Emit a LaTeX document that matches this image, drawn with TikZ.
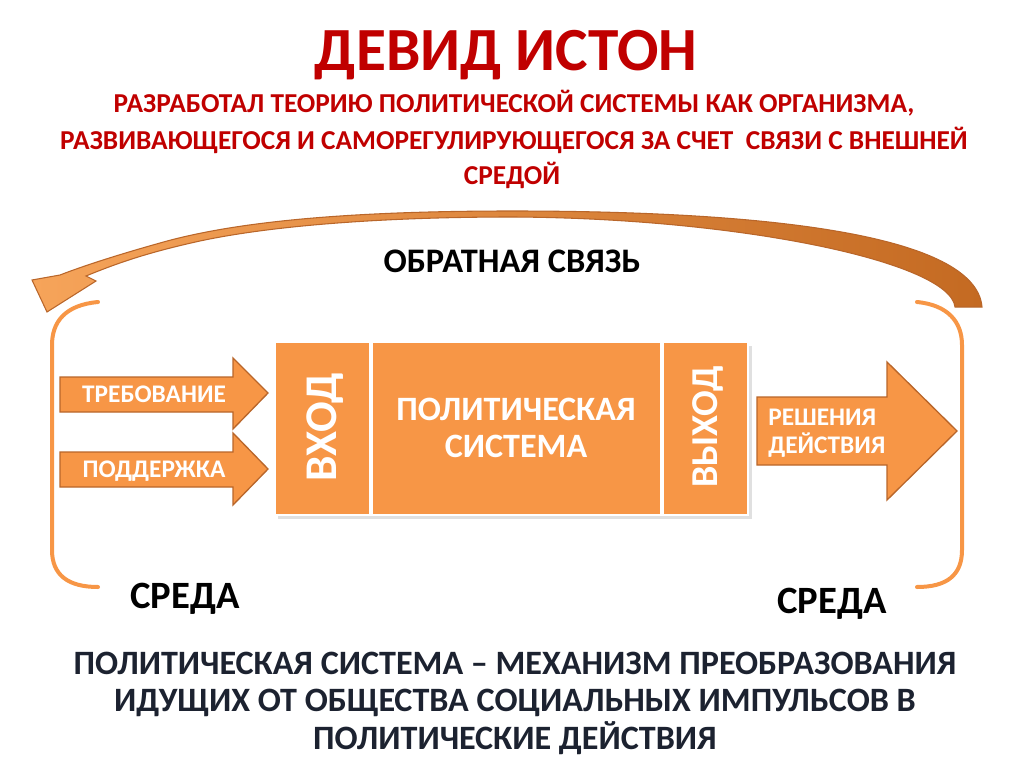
\documentclass[tikz,border=0pt]{standalone}
\usepackage{fontspec}
\setmainfont{Carlito}
\usetikzlibrary{positioning}
\definecolor{boxorange}{HTML}{F79646}
\definecolor{edgeorange}{HTML}{B9662A}
\definecolor{darkorange}{HTML}{C46A22}
\definecolor{lightorange}{HTML}{F6A45A}
\definecolor{titlered}{HTML}{C00000}
\definecolor{darknavy}{HTML}{1C2230}

\begin{document}
\begin{tikzpicture}[x=0.75pt, y=-0.75pt,
    block/.style={fill=boxorange, draw=white, line width=1pt},
    blockarrow/.style={fill=boxorange, draw=edgeorange, line width=1pt, line join=miter},
    bracket/.style={draw=boxorange, line width=3pt, line cap=round},
    redtext/.style={text=titlered, anchor=base, inner sep=0pt, font=\bfseries\fontsize{20.5}{24}\selectfont},
    deftext/.style={text=darknavy, anchor=base, inner sep=0pt, font=\bfseries\fontsize{25.6}{30}\selectfont},
    whitetext/.style={text=white, inner sep=0pt, font=\bfseries\fontsize{19}{22}\selectfont},
    envtext/.style={anchor=base, inner sep=0pt, font=\bfseries\fontsize{29}{32}\selectfont}]
    \useasboundingbox (0,0) rectangle (1024,767);

    % title
    \node[redtext, font=\bfseries\fontsize{46}{50}\selectfont] (title) at (506, 70) {ДЕВИД ИСТОН};
    \node[redtext] (sub1) at (514, 113) {РАЗРАБОТАЛ ТЕОРИЮ ПОЛИТИЧЕСКОЙ СИСТЕМЫ КАК ОРГАНИЗМА,};
    \node[redtext] (sub2) at (514, 149) {РАЗВИВАЮЩЕГОСЯ И САМОРЕГУЛИРУЮЩЕГОСЯ ЗА СЧЕТ\ \ СВЯЗИ С ВНЕШНЕЙ};
    \node[redtext] (sub3) at (512, 184) {СРЕДОЙ};

    % обратная связь
    \draw[left color=lightorange, right color=darkorange, draw=edgeorange, line width=0.8pt, line join=miter]
      (982, 307) .. controls (976, 235) and (770, 211) .. (512, 211)
      .. controls (360, 211) and (240, 220) .. (160, 243)
      .. controls (110, 257) and (78, 268) .. (60, 275)
      -- (32, 280) -- (47, 312) -- (96, 281) -- (86, 276)
      .. controls (120, 262) and (150, 252) .. (200, 241)
      .. controls (270, 226) and (380, 217) .. (512, 217)
      .. controls (740, 218) and (950, 262) .. (955, 307) -- cycle;
    \node[anchor=base, inner sep=0pt, font=\bfseries\fontsize{25.8}{28}\selectfont] (fb) at (512, 272) {ОБРАТНАЯ СВЯЗЬ};

    % среда
    \draw[bracket] (98, 302) .. controls (65, 305) and (52, 322) .. (52, 345) -- (52, 550)
      .. controls (52, 575) and (68, 587) .. (98, 587);
    \draw[bracket] (917, 302) .. controls (948, 305) and (962, 322) .. (962, 345) -- (962, 550)
      .. controls (962, 575) and (947, 587) .. (917, 587);

    % система
    \fill[black, opacity=0.12] (278, 346) rectangle (752, 519);
    \draw[block] (275, 342) rectangle (370, 515);
    \draw[block] (372, 342) rectangle (661, 515);
    \draw[block] (663, 342) rectangle (748, 515);
    \node[whitetext, rotate=90, font=\bfseries\fontsize{34}{40}\selectfont] (in) at (325, 427) {ВХОД};
    \node[whitetext, rotate=90, font=\bfseries\fontsize{28.5}{40}\selectfont] (out) at (708, 427) {ВЫХОД};
    \node[whitetext, anchor=base, font=\bfseries\fontsize{25.6}{28}\selectfont] (sys1) at (516, 420) {ПОЛИТИЧЕСКАЯ};
    \node[whitetext, anchor=base, font=\bfseries\fontsize{25.6}{28}\selectfont] (sys2) at (516, 457) {СИСТЕМА};

    % входы
    \draw[blockarrow] (60, 377) -- (233, 377) -- (233, 358) -- (268, 393) -- (233, 429) -- (233, 412) -- (60, 412) -- cycle;
    \draw[blockarrow] (60, 452) -- (233, 452) -- (233, 433) -- (268, 469) -- (233, 505) -- (233, 487) -- (60, 487) -- cycle;
    \node[whitetext, anchor=base] (dem) at (154, 402) {ТРЕБОВАНИЕ};
    \node[whitetext, anchor=base] (sup) at (154, 477) {ПОДДЕРЖКА};

    % выход
    \draw[blockarrow] (757, 397) -- (887, 397) -- (887, 362) -- (957, 431) -- (887, 500) -- (887, 465) -- (757, 465) -- cycle;
    \node[whitetext, anchor=base west] (res1) at (768, 425) {РЕШЕНИЯ};
    \node[whitetext, anchor=base west] (res2) at (768, 453) {ДЕЙСТВИЯ};

    \node[envtext] (envL) at (185, 608) {СРЕДА};
    \node[envtext] (envR) at (832, 613) {СРЕДА};

    % определение
    \node[deftext] (def1) at (515, 674) {ПОЛИТИЧЕСКАЯ СИСТЕМА – МЕХАНИЗМ ПРЕОБРАЗОВАНИЯ};
    \node[deftext] (def2) at (515, 711) {ИДУЩИХ ОТ ОБЩЕСТВА СОЦИАЛЬНЫХ ИМПУЛЬСОВ В};
    \node[deftext] (def3) at (515, 749) {ПОЛИТИЧЕСКИЕ ДЕЙСТВИЯ};
\end{tikzpicture}
\end{document}
